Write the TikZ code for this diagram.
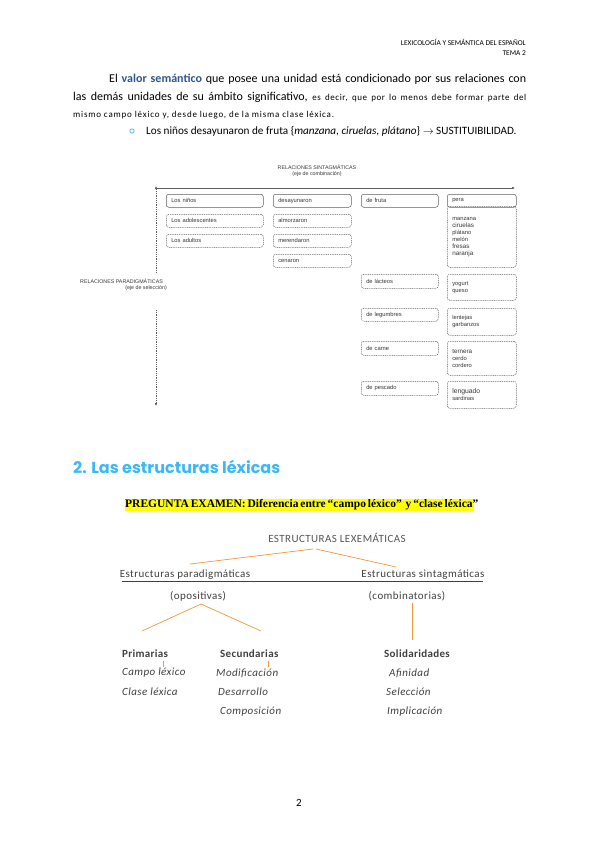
\documentclass[tikz,border=0pt]{standalone}
\usepackage{fontspec}
\setmainfont{Carlito}
\newfontfamily\diagfont{Liberation Sans}
\newfontfamily\examfont{Liberation Serif}
\newfontfamily\headfont{Poppins}
\usetikzlibrary{arrows.meta}
\definecolor{semblue}{RGB}{47,84,150}
\definecolor{titleblue}{RGB}{60,185,245}
\definecolor{bulletblue}{RGB}{100,180,230}
\definecolor{treegray}{RGB}{64,64,64}
\definecolor{lexgray}{RGB}{85,85,85}
\definecolor{treeorange}{RGB}{240,152,62}
\definecolor{boxline}{RGB}{95,95,95}
\definecolor{diagtext}{RGB}{55,55,55}
\definecolor{highlight}{RGB}{255,255,0}
\newcommand{\spaced}[1]{{\addfontfeature{LetterSpace=#1}}}
\begin{document}
\begin{tikzpicture}[x=1pt,y=-1pt,
  every node/.style={inner sep=0pt},
  bodytext/.style={font=\fontsize{12}{14}\selectfont, anchor=west},
  headtext/.style={font=\fontsize{7.4}{8}\selectfont, anchor=east},
  diaglabel/.style={font=\diagfont\fontsize{5.3}{6}\selectfont, text=diagtext},
  boxbase/.style={draw=boxline, line width=0.5pt, rounded corners=2.5pt, anchor=north west,
    inner xsep=5pt, inner ysep=0pt, align=left,
    font=\diagfont\fontsize{5.8}{7}\selectfont, text=diagtext},
  solidbox/.style={boxbase},
  dashbox/.style={boxbase, dash pattern=on 1pt off 0.8pt},
  colA/.style={text width=87pt},
  colB/.style={text width=68pt},
  colC/.style={text width=67pt},
  colD/.style={text width=59pt},
  axisline/.style={draw=boxline, line width=0.5pt},
  axisdash/.style={axisline, dash pattern=on 1pt off 0.8pt},
  tip/.style={-{Latex[length=3pt,width=2.6pt]}},
  treelabel/.style={font=\fontsize{11}{13}\selectfont\addfontfeature{LetterSpace=4}, text=treegray},
  treebold/.style={font=\fontsize{11}{13}\selectfont\bfseries\addfontfeature{LetterSpace=3}, text=treegray, anchor=west},
  treeital/.style={font=\fontsize{11}{13}\selectfont\itshape\addfontfeature{LetterSpace=4}, text=treegray, anchor=west},
  orangeline/.style={draw=treeorange, line width=0.7pt},
]
\useasboundingbox[fill=white] (0,0) rectangle (600,848);

% header
\node[headtext] (hdrA) at (526,42) {LEXICOLOGÍA Y SEMÁNTICA DEL ESPAÑOL};
\node[headtext] (hdrB) at (526,53) {TEMA 2};

% paragraph
\node[bodytext] (parA) at (109,79) {\makebox[417pt][s]{El \textcolor{semblue}{\textbf{valor semántico}} que posee una unidad está condicionado por sus relaciones con}};
\node[bodytext] (parB) at (73,97) {\makebox[453pt][s]{las demás unidades de su ámbito significativo, {\fontsize{9}{10}\selectfont\addfontfeature{LetterSpace=6}es decir, que por lo menos debe formar parte del}}};
\node[bodytext, font=\fontsize{9}{10}\selectfont\addfontfeature{LetterSpace=9}] (parC) at (73,115) {mismo campo léxico y, desde luego, de la misma clase léxica.};
\node[circle, draw=bulletblue, line width=0.8pt, minimum size=4.2pt] (bullet) at (132,131) {};
\node[bodytext, font=\fontsize{11.2}{13}\selectfont] (example) at (146,131) {Los niños desayunaron de fruta \{\textit{manzana}, \textit{ciruelas}, \textit{plátano}\} $\rightarrow$ SUSTITUIBILIDAD.};

% ---------- diagram ----------
\node[diaglabel] (sintagA) at (317,167) {RELACIONES SINTAGMÁTICAS};
\node[diaglabel] (sintagB) at (317,174) {(eje de combinación)};
\node[diaglabel, anchor=west] (paradA) at (80,281) {RELACIONES PARADIGMÁTICAS};
\node[diaglabel, anchor=east] (paradB) at (167,288) {(eje de selección)};

\coordinate (origin) at (156,188);
\coordinate (hend) at (515,188);
\coordinate (vtop) at (156,186);
\coordinate (vgapA) at (156,273);
\coordinate (vgapB) at (156,310);
\coordinate (vbot) at (156,406);
\draw[axisline, tip] (origin) -- (hend);
\draw[axisdash, tip] (vgapA) -- (vtop);
\draw[axisdash, tip] (vgapB) -- (vbot);

% column A
\node[solidbox, colA, minimum height=13pt] (ninos) at (166,194) {Los niños};
\node[dashbox, colA, minimum height=13pt] (adolesc) at (166,214) {Los adolescentes};
\node[dashbox, colA, minimum height=13pt] (adultos) at (166,234) {Los adultos};
% column B
\node[solidbox, colB, minimum height=13pt] (desay) at (273,194) {desayunaron};
\node[dashbox, colB, minimum height=13pt] (almorz) at (273,214) {almorzaron};
\node[dashbox, colB, minimum height=13pt] (merend) at (273,234) {merendaron};
\node[dashbox, colB, minimum height=13pt] (cenaron) at (273,254) {cenaron};
% column C
\node[solidbox, colC, minimum height=13pt] (fruta) at (361,194) {de fruta};
\node[dashbox, colC, minimum height=14pt] (lacteos) at (361,274) {de lácteos};
\node[dashbox, colC, minimum height=13pt] (legumb) at (361,308) {de legumbres};
\node[dashbox, colC, minimum height=14pt] (carne) at (361,341) {de carne};
\node[dashbox, colC, minimum height=14pt] (pescado) at (361,381) {de pescado};
% column D
\node[solidbox, colD, minimum height=13pt] (pera) at (447,194) {pera};
\node[dashbox, colD, minimum height=61pt] (frutas) at (447,206) {manzana\\{\fontsize{6.3}{7}\selectfont ciruelas}\\plátano\\melón\\{\fontsize{6.3}{7}\selectfont fresas}\\{\fontsize{6.3}{7}\selectfont naranja}};
\node[dashbox, colD, minimum height=26pt] (lact) at (447,274) {yogurt\\queso};
\node[dashbox, colD, minimum height=27pt] (legum) at (447,308) {lentejas\\garbanzos};
\node[dashbox, colD, minimum height=34pt] (carnes) at (447,341) {{\fontsize{6.3}{7}\selectfont ternera}\\cerdo\\cordero};
\node[dashbox, colD, minimum height=27pt] (pesc) at (447,381) {{\fontsize{6.8}{7}\selectfont lenguado}\\sardinas};

% ---------- section 2 ----------
\node[anchor=west, font=\headfont\bfseries\fontsize{16}{18}\selectfont, text=titleblue] (title) at (73,467) {2. Las estructuras léxicas};
\node[anchor=west, fill=highlight, minimum height=12pt, font=\examfont\bfseries\fontsize{11.5}{12}\selectfont] (exam) at (125,505) {\makebox[349pt][s]{PREGUNTA EXAMEN: Diferencia entre “campo léxico”\ \ y “clase léxica”}};

\node[treelabel, text=lexgray] (lexem) at (337,538) {ESTRUCTURAS LEXEMÁTICAS};
\coordinate (apexL) at (313,549);
\coordinate (apexR) at (316,549);
\coordinate (endL) at (190,564);
\coordinate (endR) at (396,567);
\draw[orangeline] (apexL) -- (endL);
\draw[orangeline] (apexR) -- (endR);

\node[treelabel] (parad) at (185,575) {Estructuras paradigmáticas};
\node[treelabel] (sintag) at (423,575) {Estructuras sintagmáticas};
\coordinate (ruleL) at (122,581);
\coordinate (ruleR) at (483,581);
\draw[draw=treegray, line width=1pt] (ruleL) -- (ruleR);

\node[treelabel] (oposit) at (198,596) {(opositivas)};
\node[treelabel] (combin) at (407,596) {(combinatorias)};
\coordinate (opApex) at (201,604);
\coordinate (opL) at (142,631);
\coordinate (opR) at (261,631);
\draw[orangeline] (opApex) -- (opL);
\draw[orangeline] (opApex) -- (opR);
\coordinate (cbTop) at (412,603);
\coordinate (cbBot) at (412,640);
\draw[orangeline] (cbTop) -- (cbBot);

\node[treebold] (prim) at (122,654) {Primarias};
\node[treebold] (secund) at (220,654) {Secundarias};
\node[treebold] (solid) at (384,654) {Solidaridades};
\coordinate (tickAtop) at (163,661);
\coordinate (tickAbot) at (163,667);
\coordinate (tickBtop) at (268,661);
\coordinate (tickBbot) at (268,667);
\draw[orangeline] (tickAtop) -- (tickAbot);
\draw[orangeline] (tickBtop) -- (tickBbot);

\node[treeital] (campo) at (122,673) {Campo léxico};
\node[treeital] (clase) at (122,692) {Clase léxica};
\node[treeital] (modif) at (216,673) {Modificación};
\node[treeital] (desarr) at (218,692) {Desarrollo};
\node[treeital] (compos) at (220,712) {Composición};
\node[treeital] (afin) at (389,673) {Afinidad};
\node[treeital] (selec) at (386,692) {Selección};
\node[treeital] (implic) at (387,712) {Implicación};

\node[font=\fontsize{11}{12}\selectfont] (pagenum) at (299,803) {2};
\end{tikzpicture}
\end{document}
